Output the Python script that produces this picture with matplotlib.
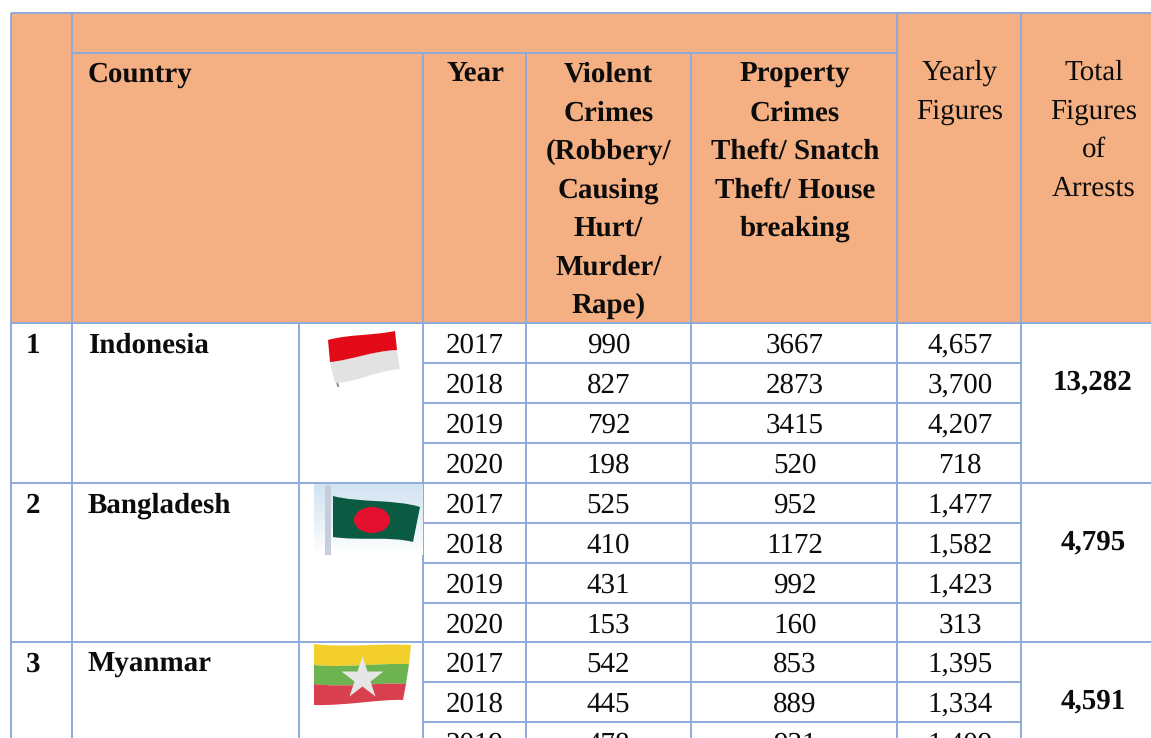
#!/usr/bin/env python
"""Arrests by country and year, drawn as the report's table."""

import matplotlib

matplotlib.use("Agg")
import matplotlib.pyplot as plt
import numpy as np
from matplotlib.colors import LinearSegmentedColormap
from matplotlib.patches import Ellipse, PathPatch, Rectangle
from matplotlib.path import Path

plt.rcParams["font.family"] = ["Liberation Serif", "DejaVu Serif"]
plt.rcParams["text.hinting"] = "none"

countries = ["Indonesia", "Bangladesh", "Myanmar"]
ranks = ["1", "2", "3"]
totals = ["13,282", "4,795", "4,591"]
years = [2017, 2018, 2019, 2020, 2017, 2018, 2019, 2020, 2017, 2018, 2019]
violent = [990, 827, 792, 198, 525, 410, 431, 153, 542, 445, 478]
property_crimes = [3667, 2873, 3415, 520, 952, 1172, 992, 160, 853, 889, 931]
yearly = ["4,657", "3,700", "4,207", "718", "1,477", "1,582", "1,423", "313",
          "1,395", "1,334", "1,409"]

LINE = "#8EAADB"
HEAD = "#F4B083"
FS = 20.9

# column edges and row edges, in image pixels
X = [11, 72, 299, 423, 526, 691, 897, 1021, 1151]
ROW_Y = [323, 363, 403, 443, 483, 523, 563, 603, 642, 682, 722, 762]
COUNTRY_ROWS = [0, 4, 8]

fig = plt.figure(figsize=(11.51, 7.38), dpi=100)
ax = fig.add_axes([0, 0, 1, 1])
ax.set_xlim(0, 1151)
ax.set_ylim(738, 0)
ax.axis("off")


def hline(x0, x1, y):
    ax.plot([x0, x1], [y, y], color=LINE, lw=1.4, solid_capstyle="butt", zorder=3)


def vline(x, y0, y1):
    ax.plot([x, x], [y0, y1], color=LINE, lw=1.4, solid_capstyle="butt", zorder=3)


def put(x, y, s, bold=False, ha="center"):
    ax.text(x, y, s, ha=ha, va="baseline", fontsize=FS, color="#0c0c0c",
            fontweight="bold" if bold else "normal", zorder=5)


def wavy_band(top, bottom, color, zorder=5):
    # top and bottom are 4-point beziers, both given left to right
    verts = list(top) + [bottom[3], bottom[2], bottom[1], bottom[0], top[0]]
    codes = [Path.MOVETO, Path.CURVE4, Path.CURVE4, Path.CURVE4, Path.LINETO,
             Path.CURVE4, Path.CURVE4, Path.CURVE4, Path.CLOSEPOLY]
    ax.add_patch(PathPatch(Path(verts, codes), fc=color, ec="none", zorder=zorder))


def flag_indonesia():
    ax.add_patch(Rectangle((310, 324), 102, 62, fc="white", ec="none", zorder=4))
    ax.plot([332, 338], [360, 386], color="#8a8a8a", lw=1.4, zorder=5)
    top = [(328, 340), (350, 334), (370, 336), (395, 331)]
    mid = [(330, 362), (352, 360), (372, 351), (397, 350)]
    low = [(335, 383), (358, 382), (375, 371), (400, 369)]
    wavy_band(mid, low, "#E2E2E2")
    wavy_band(top, mid, "#E20A16", zorder=6)


def flag_bangladesh():
    sky_map = LinearSegmentedColormap.from_list("sky", ["#D3E4F2", "#E6F0F7", "#FFFFFF"])
    sky = np.linspace(0, 1, 32).reshape(-1, 1)
    ax.imshow(sky, cmap=sky_map, extent=(314, 423, 555, 484), aspect="auto", zorder=4)
    ax.add_patch(Rectangle((325, 485), 6, 70, fc="#C6CEDC", ec="none", zorder=5))
    wavy_band([(333, 496), (360, 503), (395, 499), (420, 507)],
              [(333, 537), (360, 541), (390, 536), (413, 542)], "#0B5B43")
    ax.add_patch(Ellipse((372, 520), 36, 26, fc="#E3102F", ec="none", zorder=6))


def flag_myanmar():
    wavy_band([(314, 644), (345, 648), (380, 643), (411, 645)],
              [(314, 665), (345, 668), (380, 663), (409, 664)], "#F3CF2C", zorder=4)
    wavy_band([(314, 665), (345, 668), (380, 663), (409, 664)],
              [(314, 684), (345, 688), (380, 682), (406, 684)], "#6DB34F", zorder=4)
    wavy_band([(314, 684), (345, 688), (380, 682), (406, 684)],
              [(314, 705), (345, 706), (380, 699), (403, 700)], "#D9404F", zorder=4)
    ax.plot(362, 678, marker="*", ms=32, mfc="#E6E6E6", mec="none", zorder=5)


# header block
ax.add_patch(Rectangle((X[0], 13), X[-1] - X[0], ROW_Y[0] - 13, fc=HEAD, ec="none", zorder=1))
hline(X[0], X[-1], 13)
hline(X[1], X[6], 53)
hline(X[0], X[-1], ROW_Y[0])
vline(X[0], 13, 738)
vline(X[1], 13, 738)
for x in X[3:6]:
    vline(x, 53, ROW_Y[0])
for x in X[6:8]:
    vline(x, 13, ROW_Y[0])

put(88, 82, "Country", bold=True, ha="left")
put(475, 82, "Year", bold=True)
for i, s in enumerate(["Violent", "Crimes", "(Robbery/", "Causing", "Hurt/", "Murder/", "Rape)"]):
    put(608.5, 82 + i * 38.5, s, bold=True)
for i, s in enumerate(["Property", "Crimes", "Theft/ Snatch", "Theft/ House", "breaking"]):
    put(795, 82 + i * 38.5, s, bold=True)
for i, s in enumerate(["Yearly", "Figures"]):
    put(960, 80 + i * 38.5, s)
for i, s in enumerate(["Total", "Figures", "of", "Arrests"]):
    put(1094, 80 + i * 38.5, s)

# body grid
for x in X[2:8]:
    vline(x, ROW_Y[0], 738)
for r in range(len(years)):
    y = ROW_Y[r]
    if r in COUNTRY_ROWS:
        hline(X[0], X[-1], y)
    else:
        hline(X[3], X[7], y)

# body text, the last row runs off the bottom of the crop
for r, (yr, v, p, f) in enumerate(zip(years, violent, property_crimes, yearly)):
    base = ROW_Y[r] + 30
    put(475, base, str(yr))
    put(608.5, base, str(v))
    put(795, base, str(p))
    put(960, base, f)

for r, rank, name, total in zip(COUNTRY_ROWS, ranks, countries, totals):
    base = ROW_Y[r] + 30
    put(33, base, rank, bold=True)
    put(88, base, name, bold=True, ha="left")
    put(1093, ROW_Y[r + 1] + 27, total, bold=True)

flag_indonesia()
flag_bangladesh()
flag_myanmar()

ax.set_xlim(0, 1151)
ax.set_ylim(738, 0)
fig.savefig("out.png", dpi=100, facecolor="white")
plt.close(fig)
